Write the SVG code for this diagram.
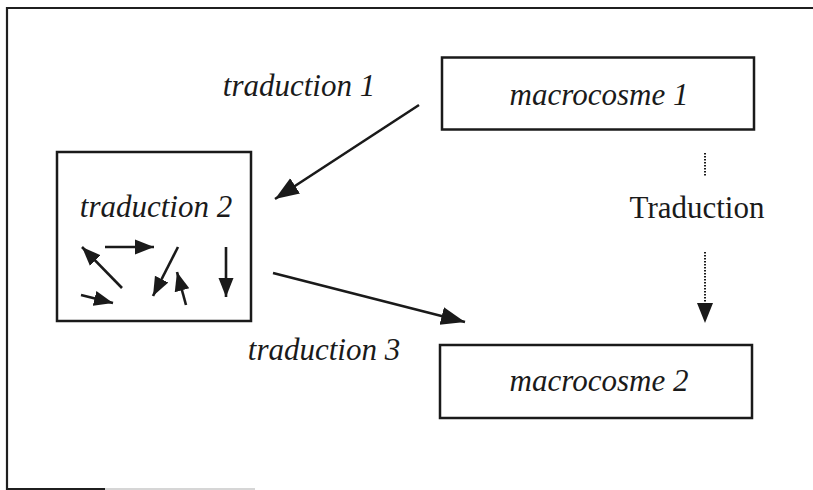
<svg xmlns="http://www.w3.org/2000/svg" width="813" height="490" viewBox="0 0 813 490">
  <style>
    .box { fill: #ffffff; stroke: #1a1a1a; stroke-width: 2.5; }
    .lbl { font-family: "Liberation Serif", "Times New Roman", serif; font-size: 31px; fill: #1a1a1a; }
    .it { font-style: italic; }
    .edge { stroke: #1a1a1a; stroke-width: 2.6; fill: none; }
    .dot { stroke: #1a1a1a; stroke-width: 2; stroke-dasharray: 1.5 1.5; fill: none; }
  </style>
  <defs>
    <marker id="head" markerUnits="userSpaceOnUse" markerWidth="26" markerHeight="22" viewBox="0 0 26 22" refX="24" refY="11" orient="auto">
      <path d="M0,2 L24,11 L0,20 Z" fill="#1a1a1a"/>
    </marker>
    <marker id="headS" markerUnits="userSpaceOnUse" markerWidth="20" markerHeight="18" viewBox="0 0 20 18" refX="19" refY="9" orient="auto">
      <path d="M0,1.5 L19,9 L0,16.5 Z" fill="#1a1a1a"/>
    </marker>
  </defs>

  <rect width="813" height="490" fill="#ffffff"/>

  <!-- outer frame (open on the right) -->
  <g id="frame">
    <path d="M813,8 L7,8 L7,489 L105,489" stroke="#1f1f1f" stroke-width="2.2" fill="none"/>
    <path d="M105,489 L255,489" stroke="#c8c8c8" stroke-width="1.5" fill="none"/>
  </g>

  <g id="macrocosme1">
    <rect class="box" x="442" y="57.5" width="312" height="72"/>
    <text class="lbl it" x="599" y="105" text-anchor="middle">macrocosme 1</text>
  </g>

  <g id="macrocosme2">
    <rect class="box" x="440" y="345" width="312" height="73"/>
    <text class="lbl it" x="599" y="391" text-anchor="middle">macrocosme 2</text>
  </g>

  <g id="traduction2">
    <rect class="box" x="57" y="152" width="194" height="169"/>
    <text class="lbl it" x="156" y="217" text-anchor="middle">traduction 2</text>
    <g class="swarm">
      <line class="edge" x1="122" y1="288" x2="82" y2="247" marker-end="url(#headS)"/>
      <line class="edge" x1="105" y1="247" x2="154" y2="247" marker-end="url(#headS)"/>
      <line class="edge" x1="178" y1="247" x2="153" y2="296" marker-end="url(#headS)"/>
      <line class="edge" x1="186" y1="305" x2="177" y2="272" marker-end="url(#headS)"/>
      <line class="edge" x1="226" y1="247" x2="226" y2="297" marker-end="url(#headS)"/>
      <line class="edge" x1="81" y1="295" x2="113" y2="303" marker-end="url(#headS)"/>
    </g>
  </g>

  <g id="labels">
    <text class="lbl it" x="299" y="96" text-anchor="middle">traduction 1</text>
    <text class="lbl it" x="324" y="360" text-anchor="middle">traduction 3</text>
    <text class="lbl" x="697" y="218" text-anchor="middle">Traduction</text>
  </g>

  <g id="connectors">
    <line class="edge" x1="419" y1="105" x2="275" y2="199" marker-end="url(#head)"/>
    <line class="edge" x1="273" y1="273" x2="465" y2="322" marker-end="url(#head)"/>
    <line class="dot" x1="705" y1="153" x2="705" y2="177"/>
    <line class="dot" x1="705" y1="252" x2="705" y2="306"/>
    <path d="M697,303 L713,303 L705,323 Z" fill="#1a1a1a"/>
  </g>
</svg>
